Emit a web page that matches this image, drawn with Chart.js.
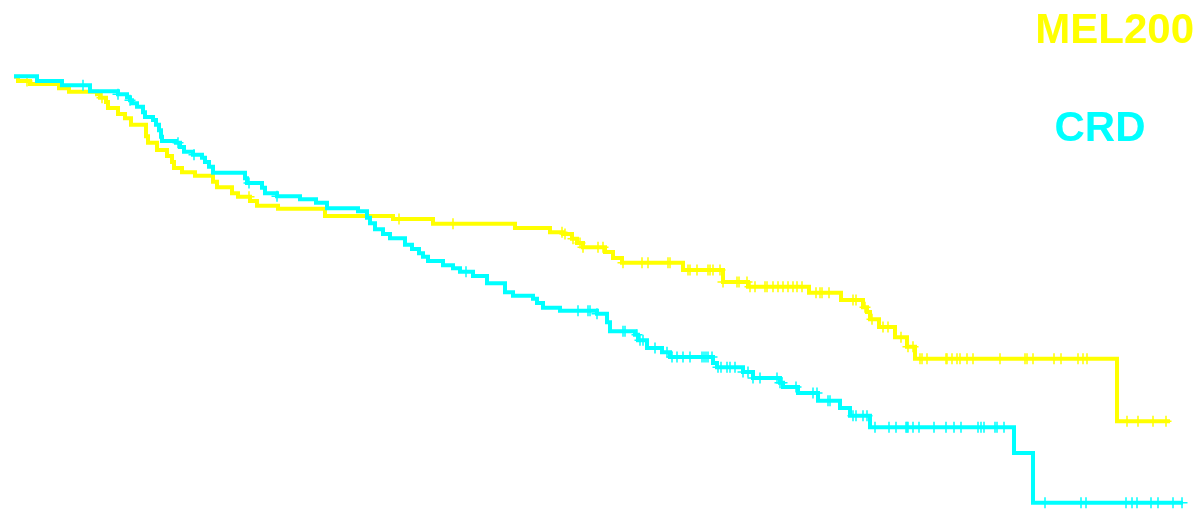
<!DOCTYPE html>
<html>
<head>
<meta charset="utf-8">
<title>MEL200 vs CRD</title>
<script src="https://cdn.jsdelivr.net/npm/chart.js@4.4.1/dist/chart.umd.min.js"></script>
<style>
    body { margin: 0; background: #ffffff; }
    #wrap { width: 1198px; height: 513px; position: relative; }
</style>
</head>
<body>
<div id="wrap"><canvas id="kmChart"></canvas></div>
<script>
// Kaplan-Meier steps: time (months) where survival changes, and survival (%) from then on
const melTimes = [0, 0.2, 0.8, 2.25, 2.75, 4.15, 4.3, 4.6, 4.7, 5.2, 5.55, 5.85, 6.6, 6.7, 7.15, 7.65, 7.9, 8.0, 8.4, 9.05,
    9.95, 10.15, 10.9, 11.2, 11.8, 12.15, 13.2, 15.55, 18.95, 20.95, 25.05, 26.8, 27.45, 27.9, 28.15, 28.45, 29.55, 29.95, 30.4,
    33.45, 35.45, 36.7, 39.75, 41.35, 42.45, 42.65, 42.8, 43.25, 44.05, 44.65, 45.05, 55.15, 57.8];
const melSurv = [99.7, 99.0, 98.5, 97.8, 97.2, 96.8, 96.2, 95.5, 94.5, 93.5, 92.8, 91.7, 89.8, 88.7, 87.5, 86.5, 85.5, 84.5, 83.8, 83.2,
    82.2, 81.3, 80.3, 79.7, 79.0, 78.2, 77.7, 76.5, 76.0, 75.2, 74.5, 73.8, 73.5, 72.7, 72.0, 71.3, 70.5, 69.5, 68.7,
    67.5, 65.5, 64.7, 63.7, 62.5, 61.3, 60.5, 59.3, 58.0, 56.3, 54.7, 52.7, 42.3, 42.3];

const crdTimes = [0, 1.15, 2.4, 3.8, 5.2, 5.65, 5.8, 5.9, 6.15, 6.45, 6.55, 6.95, 7.1, 7.25, 7.35, 7.4, 8.1, 8.3, 8.5, 8.95,
    9.4, 9.55, 9.75, 9.95, 11.55, 11.65, 12.4, 12.55, 13.15, 14.3, 15.1, 15.65, 17.2, 17.65, 17.8, 18.05, 18.45, 18.8, 19.55,
    19.9, 20.25, 20.45, 20.7, 21.45, 21.95, 22.3, 22.95, 23.65, 24.55, 24.95, 25.95, 26.15, 26.45, 27.3, 29.15, 29.65, 29.8,
    31.05, 31.2, 31.65, 32.4, 32.8, 34.95, 35.15, 36.45, 36.95, 38.3, 38.45, 39.2, 40.2, 41.3, 41.8, 42.8, 50.0, 50.95, 58.45];
const crdSurv = [99.8, 99.0, 98.3, 97.3, 96.8, 96.3, 95.8, 95.3, 94.7, 93.8, 93.0, 92.5, 91.7, 90.8, 89.7, 89.0, 88.7, 88.0, 87.2, 86.7,
    86.2, 85.5, 84.7, 83.7, 82.8, 82.0, 81.2, 80.3, 79.8, 79.3, 78.7, 77.8, 77.3, 76.2, 75.3, 74.3, 73.5, 72.8, 71.7,
    71.0, 70.3, 69.7, 69.0, 68.3, 67.8, 67.2, 66.5, 65.3, 63.8, 63.2, 62.7, 62.0, 61.2, 60.7, 60.2, 58.8, 57.3,
    56.7, 55.8, 54.5, 53.8, 53.0, 52.0, 51.3, 50.5, 49.5, 48.7, 48.0, 47.0, 45.7, 44.5, 43.2, 41.3, 37.0, 28.7, 28.7];

// Censored observations (months)
const melCensor = [0.65, 4.4, 11.75, 19.25, 21.95, 27.4, 27.55, 27.95, 28.3, 28.45, 29.2, 29.45, 30.45, 31.4, 31.7, 32.7, 32.8,
    33.7, 33.8, 34.15, 34.7, 34.8, 34.95, 35.3, 35.45, 36.15, 36.25, 36.65, 36.8, 37.05, 37.55, 37.65, 37.95, 38.2, 38.45,
    38.7, 38.95, 39.15, 39.4, 40.1, 40.3, 40.4, 40.75, 41.95, 42.1, 42.55, 42.9, 43.45, 43.7, 44.35, 44.7, 44.95, 45.3, 45.4,
    45.65, 46.6, 46.65, 46.9, 47.15, 47.3, 47.65, 47.95, 49.3, 50.55, 50.65, 50.95, 52.0, 52.35, 53.2, 53.45, 53.65,
    55.65, 56.2, 56.95, 57.6];
const crdCensor = [3.45, 5.2, 5.8, 8.2, 9.0, 11.75, 13.15, 22.6, 28.2, 28.7, 28.8, 29.15, 30.45, 30.55, 31.15, 31.3, 31.45, 32.05,
    32.65, 32.9, 33.15, 33.45, 33.8, 34.4, 34.5, 34.6, 34.7, 34.9, 35.2, 35.35, 35.65, 35.8, 36.05, 36.45, 36.7, 36.95, 37.3,
    38.15, 38.3, 38.4, 39.1, 39.95, 40.15, 40.7, 40.8, 41.95, 42.1, 42.45, 42.65, 43.05, 43.75, 44.1, 44.6, 44.65, 44.7,
    44.95, 45.25, 46.0, 46.6, 47.0, 47.35, 48.2, 48.35, 48.5, 49.05, 49.15, 49.5, 51.55, 53.35, 53.6, 55.6, 55.9, 56.15,
    56.85, 57.2, 57.95, 58.4];

const MEL_COLOR = '#ffff00';
const CRD_COLOR = '#00ffff';

// Survival value of a step curve at time t
function survAt(times, surv, t) {
    let s = surv[0];
    for (let i = 0; i < times.length; i++) {
        if (times[i] <= t) s = surv[i];
    }
    return s;
}

const toPoints = (xs, ys) => xs.map((x, i) => ({ x: x, y: ys[i] }));
const censorPoints = (cens, times, surv) => cens.map(t => ({ x: t, y: survAt(times, surv, t) }));

// Group labels drawn in the top right corner
const groupLabels = {
    id: 'groupLabels',
    afterDraw(chart) {
        const ctx = chart.ctx;
        ctx.save();
        ctx.font = 'bold 42px "Liberation Sans", Arial, sans-serif';
        ctx.textBaseline = 'alphabetic';
        ctx.textAlign = 'right';
        ctx.fillStyle = MEL_COLOR;
        ctx.fillText('MEL200', 1194, 43);
        ctx.textAlign = 'center';
        ctx.fillStyle = CRD_COLOR;
        ctx.fillText('CRD', 1100, 141);
        ctx.restore();
    }
};

const ctx = document.getElementById('kmChart').getContext('2d');
const kmChart = new Chart(ctx, {
    type: 'line',
    data: {
        datasets: [
            {
                label: 'CRD',
                data: toPoints(crdTimes, crdSurv),
                borderColor: CRD_COLOR,
                borderWidth: 4,
                stepped: true,
                pointRadius: 0,
                fill: false,
                clip: false
            },
            {
                label: 'CRD censored',
                data: censorPoints(crdCensor, crdTimes, crdSurv),
                showLine: false,
                pointStyle: 'cross',
                pointRadius: 5.5,
                pointBorderWidth: 1.5,
                pointBorderColor: CRD_COLOR,
                borderColor: CRD_COLOR,
                clip: false
            },
            {
                label: 'MEL200',
                data: toPoints(melTimes, melSurv),
                borderColor: MEL_COLOR,
                borderWidth: 4,
                stepped: true,
                pointRadius: 0,
                fill: false,
                clip: false
            },
            {
                label: 'MEL200 censored',
                data: censorPoints(melCensor, melTimes, melSurv),
                showLine: false,
                pointStyle: 'cross',
                pointRadius: 5.5,
                pointBorderWidth: 1.5,
                pointBorderColor: MEL_COLOR,
                borderColor: MEL_COLOR,
                clip: false
            }
        ]
    },
    options: {
        responsive: true,
        maintainAspectRatio: false,
        animation: false,
        layout: { padding: 0, autoPadding: false },
        scales: {
            x: { type: 'linear', min: -0.7, max: 59.2, display: false },
            y: { type: 'linear', min: 27.0, max: 112.5, display: false }
        },
        plugins: {
            legend: { display: false },
            tooltip: { enabled: false }
        }
    },
    plugins: [groupLabels]
});
</script>
</body>
</html>
